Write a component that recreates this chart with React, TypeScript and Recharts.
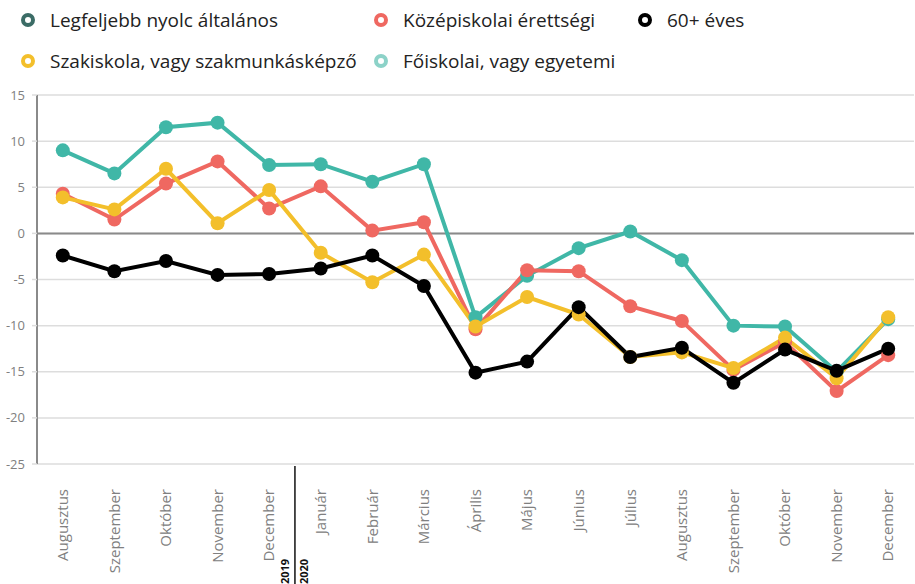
import {
  LineChart,
  Line,
  XAxis,
  YAxis,
  CartesianGrid,
  ReferenceLine,
} from "recharts";

const months = [
  "Augusztus",
  "Szeptember",
  "Október",
  "November",
  "December",
  "Január",
  "Február",
  "Március",
  "Április",
  "Május",
  "Június",
  "Július",
  "Augusztus",
  "Szeptember",
  "Október",
  "November",
  "December",
];

// last month of 2019 (index into months)
const YEAR_BREAK = 4;

const foiskolai = [9.0, 6.5, 11.5, 12.0, 7.4, 7.5, 5.6, 7.5, -9.1, -4.6, -1.6, 0.2, -2.9, -10.0, -10.1, -15.0, -9.3];
const kozepiskolai = [4.3, 1.5, 5.4, 7.8, 2.7, 5.1, 0.3, 1.2, -10.4, -4.0, -4.1, -7.9, -9.5, -14.8, -11.8, -17.1, -13.2];
const szakiskola = [3.9, 2.6, 7.0, 1.1, 4.7, -2.1, -5.3, -2.3, -10.1, -6.9, -8.8, -13.4, -12.9, -14.6, -11.3, -15.7, -9.1];
const idosek = [-2.4, -4.1, -3.0, -4.5, -4.4, -3.8, -2.4, -5.7, -15.1, -13.9, -8.0, -13.4, -12.4, -16.2, -12.6, -14.9, -12.5];

const yTicks = [15, 10, 5, 0, -5, -10, -15, -20, -25];

// legend rows as laid out in the original
const LEGEND_ROWS = [
  [
    { label: "Legfeljebb nyolc általános", color: "#3B6C66" },
    { label: "Középiskolai érettségi", color: "#EF6861" },
    { label: "60+ éves", color: "#000000" },
  ],
  [
    { label: "Szakiskola, vagy szakmunkásképző", color: "#F3BF2B" },
    { label: "Főiskolai, vagy egyetemi", color: "#8CD2C8" },
  ],
];
const LEGEND_COLS = [21, 374, 638];

const SERIES = [
  { key: "foiskolai", color: "#40B7A7" },
  { key: "kozepiskolai", color: "#EF6861" },
  { key: "szakiskola", color: "#F3BF2B" },
  { key: "idosek", color: "#000000" },
];

const data = months.map((m, i) => ({
  month: m,
  foiskolai: foiskolai[i],
  kozepiskolai: kozepiskolai[i],
  szakiskola: szakiskola[i],
  idosek: idosek[i],
}));

const FONT = "'Open Sans', 'Noto Sans', sans-serif";
const HALF_STEP = 877 / months.length / 2;

function MonthTick(props: any) {
  const { x, y, payload, index } = props;
  const sep = x + HALF_STEP;
  return (
    <g>
      <text
        transform={`translate(${x},${y + 17}) rotate(-90)`}
        textAnchor="end"
        dy="0.35em"
        fontSize={15}
        fill="#808080"
        fontFamily={FONT}
      >
        {payload.value}
      </text>
      {index === YEAR_BREAK && (
        <g>
          <line x1={sep} x2={sep} y1={y - 6} y2={y + 125} stroke="#111" strokeWidth={1.5} />
          <text
            transform={`translate(${sep - 6},${y + 112}) rotate(-90)`}
            fontSize={11}
            fontWeight="bold"
            fill="#111"
            fontFamily={FONT}
          >
            2019
          </text>
          <text
            transform={`translate(${sep + 13},${y + 112}) rotate(-90)`}
            fontSize={11}
            fontWeight="bold"
            fill="#111"
            fontFamily={FONT}
          >
            2020
          </text>
        </g>
      )}
    </g>
  );
}

function LegendBlock() {
  return (
    <div style={{ position: "absolute", left: 0, top: 0, fontFamily: FONT, fontSize: 19, color: "#222" }}>
      {LEGEND_ROWS.map((row, r) =>
        row.map((item, c) => (
          <div
            key={item.label}
            style={{
              position: "absolute",
              left: LEGEND_COLS[c],
              top: 6 + r * 41,
              height: 28,
              display: "flex",
              alignItems: "center",
              whiteSpace: "nowrap",
            }}
          >
            <span
              style={{
                display: "inline-block",
                width: 6,
                height: 6,
                borderRadius: "50%",
                border: `4px solid ${item.color}`,
                marginRight: 15,
              }}
            />
            <span>{item.label}</span>
          </div>
        ))
      )}
    </div>
  );
}

export default function App() {
  return (
    <div style={{ position: "absolute", left: 0, top: 0, width: 915, height: 584, background: "#fff" }}>
      <LineChart
        width={915}
        height={584}
        data={data}
        margin={{ top: 95, right: 1, bottom: 0, left: 0 }}
      >
        <CartesianGrid vertical={false} stroke="#dddddd" strokeWidth={1.5} />
        <XAxis
          dataKey="month"
          padding={{ left: HALF_STEP, right: HALF_STEP }}
          height={120}
          axisLine={false}
          tickLine={false}
          interval={0}
          tick={<MonthTick />}
        />
        <YAxis
          domain={[-25, 15]}
          ticks={yTicks}
          width={37}
          tickSize={5}
          tickMargin={7}
          axisLine={{ stroke: "#8a8a8a", strokeWidth: 2 }}
          tickLine={{ stroke: "#dddddd", strokeWidth: 1.5 }}
          tick={{ fontSize: 13, fill: "#808080", fontFamily: FONT }}
        />
        <ReferenceLine y={0} stroke="#8a8a8a" strokeWidth={2} />
        {SERIES.map((s) => (
          <Line
            key={s.key}
            dataKey={s.key}
            type="linear"
            stroke={s.color}
            strokeWidth={4}
            dot={{ r: 7, fill: s.color, stroke: "none" }}
            activeDot={false}
            isAnimationActive={false}
          />
        ))}
      </LineChart>
      <LegendBlock />
    </div>
  );
}
